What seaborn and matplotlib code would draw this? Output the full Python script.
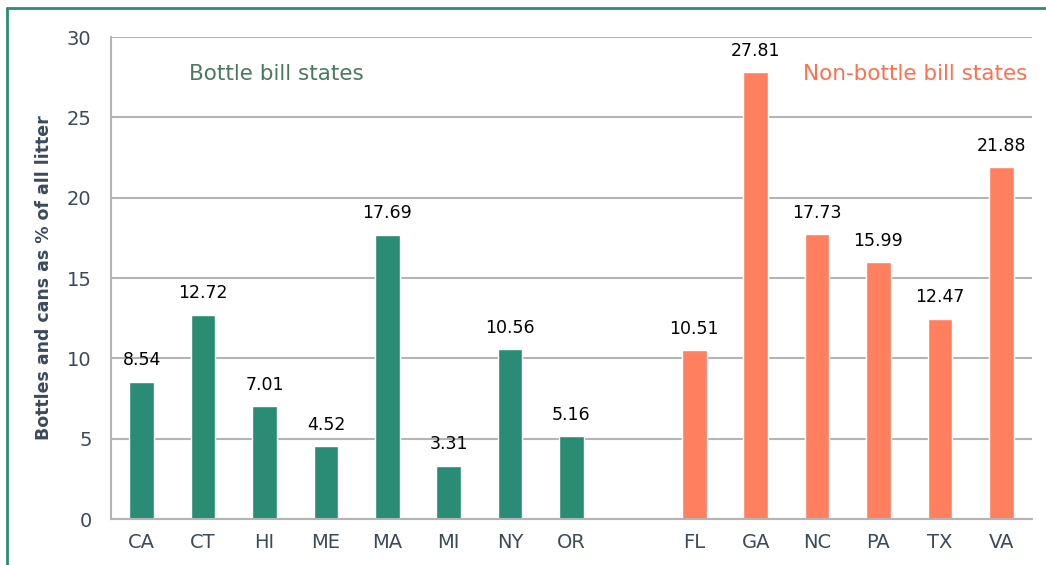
import pandas as pd
import matplotlib.pyplot as plt
import seaborn as sns
from matplotlib.lines import Line2D

# data
bottle_states = ["CA", "CT", "HI", "ME", "MA", "MI", "NY", "OR"]
bottle_values = [8.54, 12.72, 7.01, 4.52, 17.69, 3.31, 10.56, 5.16]
non_bottle_states = ["FL", "GA", "NC", "PA", "TX", "VA"]
non_bottle_values = [10.51, 27.81, 17.73, 15.99, 12.47, 21.88]

GREEN = "#2a8c74"
ORANGE = "#ff7f5f"
SLATE = "#3b4a5c"

df = pd.DataFrame({
    "state": bottle_states + non_bottle_states,
    "value": bottle_values + non_bottle_values,
    "group": ["Bottle bill"] * len(bottle_states) + ["Non-bottle bill"] * len(non_bottle_states),
})
order = bottle_states + [" "] + non_bottle_states

sns.set_style("white")
plt.rcParams["font.family"] = ["DejaVu Sans"]

fig = plt.figure(figsize=(10.46, 5.65), dpi=100)
ax = fig.add_axes([0.1061, 0.0814, 0.8805, 0.8531])

sns.barplot(
    data=df, x="state", y="value", hue="group", order=order,
    palette={"Bottle bill": GREEN, "Non-bottle bill": ORANGE},
    dodge=False, width=0.4, legend=False, ax=ax, saturation=1,
)

# value labels
for container in ax.containers:
    ax.bar_label(container, fmt="%.2f", padding=9, fontsize=12.5, color="black")

ax.set_ylim(0, 30)
ax.set_xlim(-0.5, len(order) - 0.5)
ax.set_yticks(range(0, 31, 5))
ax.yaxis.grid(True, color="#b4b4b4", linewidth=1.5)
ax.set_axisbelow(True)

for side in ["top", "right"]:
    ax.spines[side].set_visible(False)
for side in ["left", "bottom"]:
    ax.spines[side].set_color("#b4b4b4")
    ax.spines[side].set_linewidth(1.5)

ax.set_xticks([i - 0.5 for i in range(len(order) + 1)], minor=True)
ax.tick_params(axis="x", which="major", length=0, pad=10, labelsize=14, labelcolor=SLATE)
ax.tick_params(axis="x", which="minor", length=6, width=1.2, color="#b4b4b4", direction="out")
ax.tick_params(axis="y", length=6, width=1.2, color="#b4b4b4", pad=8, labelsize=14, labelcolor=SLATE)

ax.set_xlabel("")
ax.set_ylabel("Bottles and cans as % of all litter", fontsize=12.5, color=SLATE,
              fontweight="bold", labelpad=10)

ax.text(2.2, 27.7, "Bottle bill states", fontsize=15.5, color="#4a7a5e",
        ha="center", va="center")
ax.text(12.6, 27.7, "Non-bottle bill states", fontsize=15.5, color="#ff7050",
        ha="center", va="center")

# slide frame on top and left
fig.add_artist(Line2D([0.0067, 1.0], [0.985, 0.985], transform=fig.transFigure,
                      color=GREEN, linewidth=2))
fig.add_artist(Line2D([0.0067, 0.0067], [0.0, 0.985], transform=fig.transFigure,
                      color=GREEN, linewidth=2))

fig.savefig("out.png", dpi=100)
